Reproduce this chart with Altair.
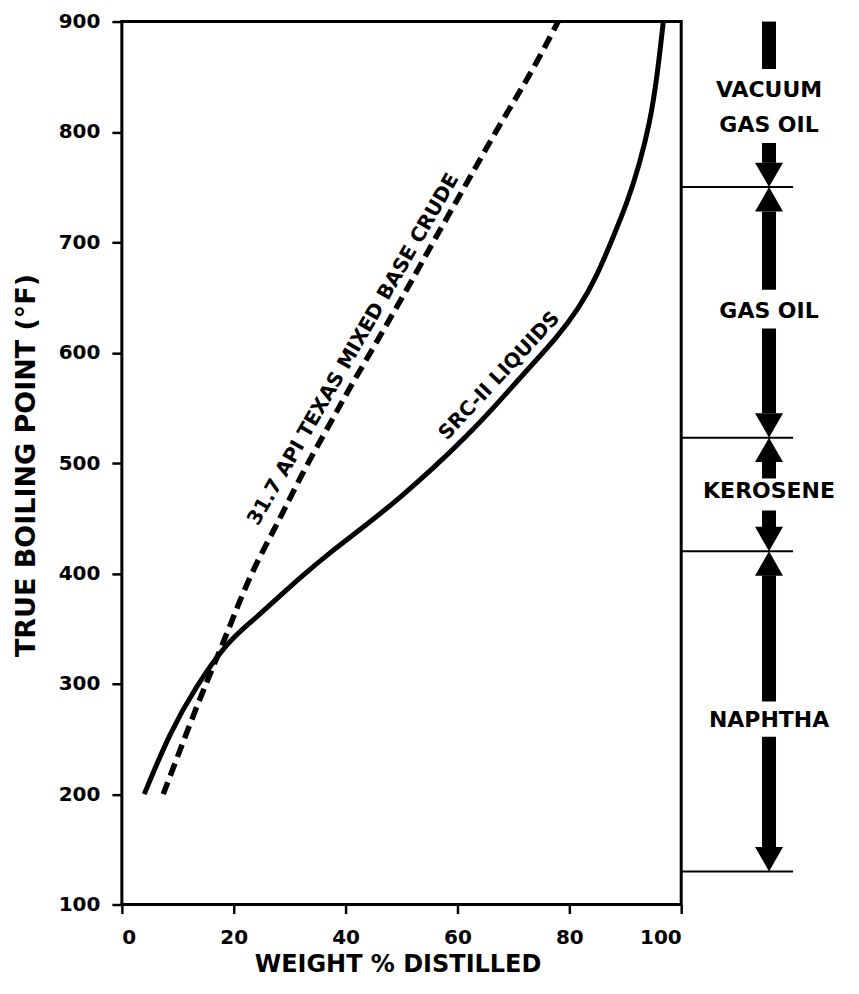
import altair as alt
import pandas as pd

# ---- data ----
src_wt = [4.0, 8.6, 13.3, 18.7, 22.9, 28.8, 31.8, 37.7, 43.7, 49.6, 55.6, 61.6,
          67.0, 72.9, 77.7, 81.8, 84.8, 87.7, 90.5, 92.5, 94.4, 95.7, 96.8]
src_tbp = [200, 256, 298, 337, 355, 382, 396, 421, 444, 468, 495, 524,
           553, 587, 613, 641, 668, 703, 738, 770, 808, 850, 900]

crude_wt = [7.4, 10.4, 13.9, 16.3, 19.3, 21.6, 24.6, 27.7, 30.5, 34.1, 37.7,
            40.6, 44.8, 48.4, 51.5, 55.5, 59.8, 63.8, 67.5, 71.1, 74.5, 78.0]
crude_tbp = [200, 240, 286, 315, 352, 382, 415, 444, 473, 508, 540,
             567, 603, 635, 662, 699, 737, 773, 806, 836, 866, 900]

# fraction cut points (deg F)
cut_tbp = [750, 523, 420, 130]
# arrow shaft segments (top, bottom) in deg F
shaft_top = [900, 790, 728, 622, 501, 457, 398, 252]
shaft_bot = [857, 772, 657, 545, 486, 442, 284, 152]
# arrow heads
head_down_tbp = [750, 523, 420, 130]
head_up_tbp = [750, 523, 420]
# fraction labels
frac_text = ["VACUUM", "GAS OIL", "GAS OIL", "KEROSENE", "NAPHTHA"]
frac_tbp = [838, 806, 638, 475, 267]
frac_x = 115.7      # column of the arrows, in weight-% units
cut_x1, cut_x2 = 100, 120

# curve labels
curve_text = ["31.7 API TEXAS MIXED BASE CRUDE", "SRC-II LIQUIDS"]
curve_wt = [41.4, 67.5]
curve_tbp = [603, 579]
curve_angle = [300, 313]

FONT = "DejaVu Sans"

xs = alt.Scale(domain=[0, 100], nice=False)
ys = alt.Scale(domain=[100, 900], nice=False)

x_axis = alt.Axis(values=[0, 20, 40, 60, 80, 100], title="WEIGHT % DISTILLED",
                  labelFont=FONT, labelFontSize=20, labelFontWeight="bold",
                  labelColor="black", tickColor="black", tickSize=9, tickWidth=2.5,
                  labelPadding=14, grid=False, domain=False,
                  titleFont=FONT, titleFontSize=24, titleFontWeight="bold",
                  titleColor="black", titleX=276, titleY=60,
                  titleBaseline="middle", titleAlign="center")
y_axis = alt.Axis(values=list(range(100, 901, 100)), title="TRUE BOILING POINT (°F)",
                  labelFont=FONT, labelFontSize=20, labelFontWeight="bold",
                  labelColor="black", tickColor="black", tickSize=10, tickWidth=2.5,
                  labelPadding=12, grid=False, domain=False,
                  titleFont=FONT, titleFontSize=27, titleFontWeight="bold",
                  titleColor="black", titleX=-95, titleY=444, titleAngle=270,
                  titleBaseline="middle", titleAlign="center")


def X(field):
    return alt.X(field, scale=xs, axis=x_axis, title="WEIGHT % DISTILLED")


def Y(field):
    return alt.Y(field, scale=ys, axis=y_axis, title="TRUE BOILING POINT (°F)")


src_df = pd.DataFrame({"wt": src_wt, "tbp": src_tbp})
crude_df = pd.DataFrame({"wt": crude_wt, "tbp": crude_tbp})

solid = alt.Chart(src_df).mark_line(color="black", strokeWidth=5, interpolate="basis").encode(
    x=X("wt:Q"), y=Y("tbp:Q"),
)
dashed = alt.Chart(crude_df).mark_line(color="black", strokeWidth=5.5, strokeDash=[13, 7],
                                       interpolate="basis").encode(
    x=X("wt:Q"), y=Y("tbp:Q"),
)

lab_df = pd.DataFrame({"t": curve_text, "wt": curve_wt, "tbp": curve_tbp, "a": curve_angle})
labels = alt.Chart(lab_df).mark_text(font=FONT, fontSize=20, fontWeight="bold", color="black",
                                     align="center", baseline="middle").encode(
    x=X("wt:Q"), y=Y("tbp:Q"),
    text="t:N",
    angle=alt.Angle("a:Q", scale=None),
)

cut_df = pd.DataFrame({"tbp": cut_tbp, "x1": [cut_x1] * len(cut_tbp), "x2": [cut_x2] * len(cut_tbp)})
cuts = alt.Chart(cut_df).mark_rule(color="black", strokeWidth=2).encode(
    x=X("x1:Q"), x2="x2:Q", y=Y("tbp:Q"),
)

shaft_df = pd.DataFrame({"t1": shaft_top, "t2": shaft_bot, "x": [frac_x] * len(shaft_top)})
shafts = alt.Chart(shaft_df).mark_rule(color="black", strokeWidth=14).encode(
    x=X("x:Q"), y=Y("t1:Q"), y2="t2:Q",
)

down_df = pd.DataFrame({"tbp": head_down_tbp, "x": [frac_x] * len(head_down_tbp)})
up_df = pd.DataFrame({"tbp": head_up_tbp, "x": [frac_x] * len(head_up_tbp)})
heads_down = alt.Chart(down_df).mark_point(shape="M -1 -1.75 L 1 -1.75 L 0 0 Z", size=784,
                                           filled=True, color="black", opacity=1).encode(
    x=X("x:Q"), y=Y("tbp:Q"),
)
heads_up = alt.Chart(up_df).mark_point(shape="M -1 1.75 L 1 1.75 L 0 0 Z", size=784,
                                       filled=True, color="black", opacity=1).encode(
    x=X("x:Q"), y=Y("tbp:Q"),
)

frac_df = pd.DataFrame({"t": frac_text, "tbp": frac_tbp, "x": [frac_x] * len(frac_text)})
frac_labels = alt.Chart(frac_df).mark_text(font=FONT, fontSize=22, fontWeight="bold", color="black",
                                           align="center", baseline="middle").encode(
    x=X("x:Q"), y=Y("tbp:Q"),
    text="t:N",
)

chart = alt.layer(solid, dashed, labels, cuts, shafts, heads_down, heads_up, frac_labels).properties(
    width=560, height=884,
    autosize=alt.AutoSizeParams(type="none"),
    padding={"left": 114, "top": 13, "right": 170, "bottom": 75},
    background="white",
).configure_view(stroke="black", strokeWidth=3)

chart.save("out.html", embed_options={"renderer": "svg", "actions": False})
